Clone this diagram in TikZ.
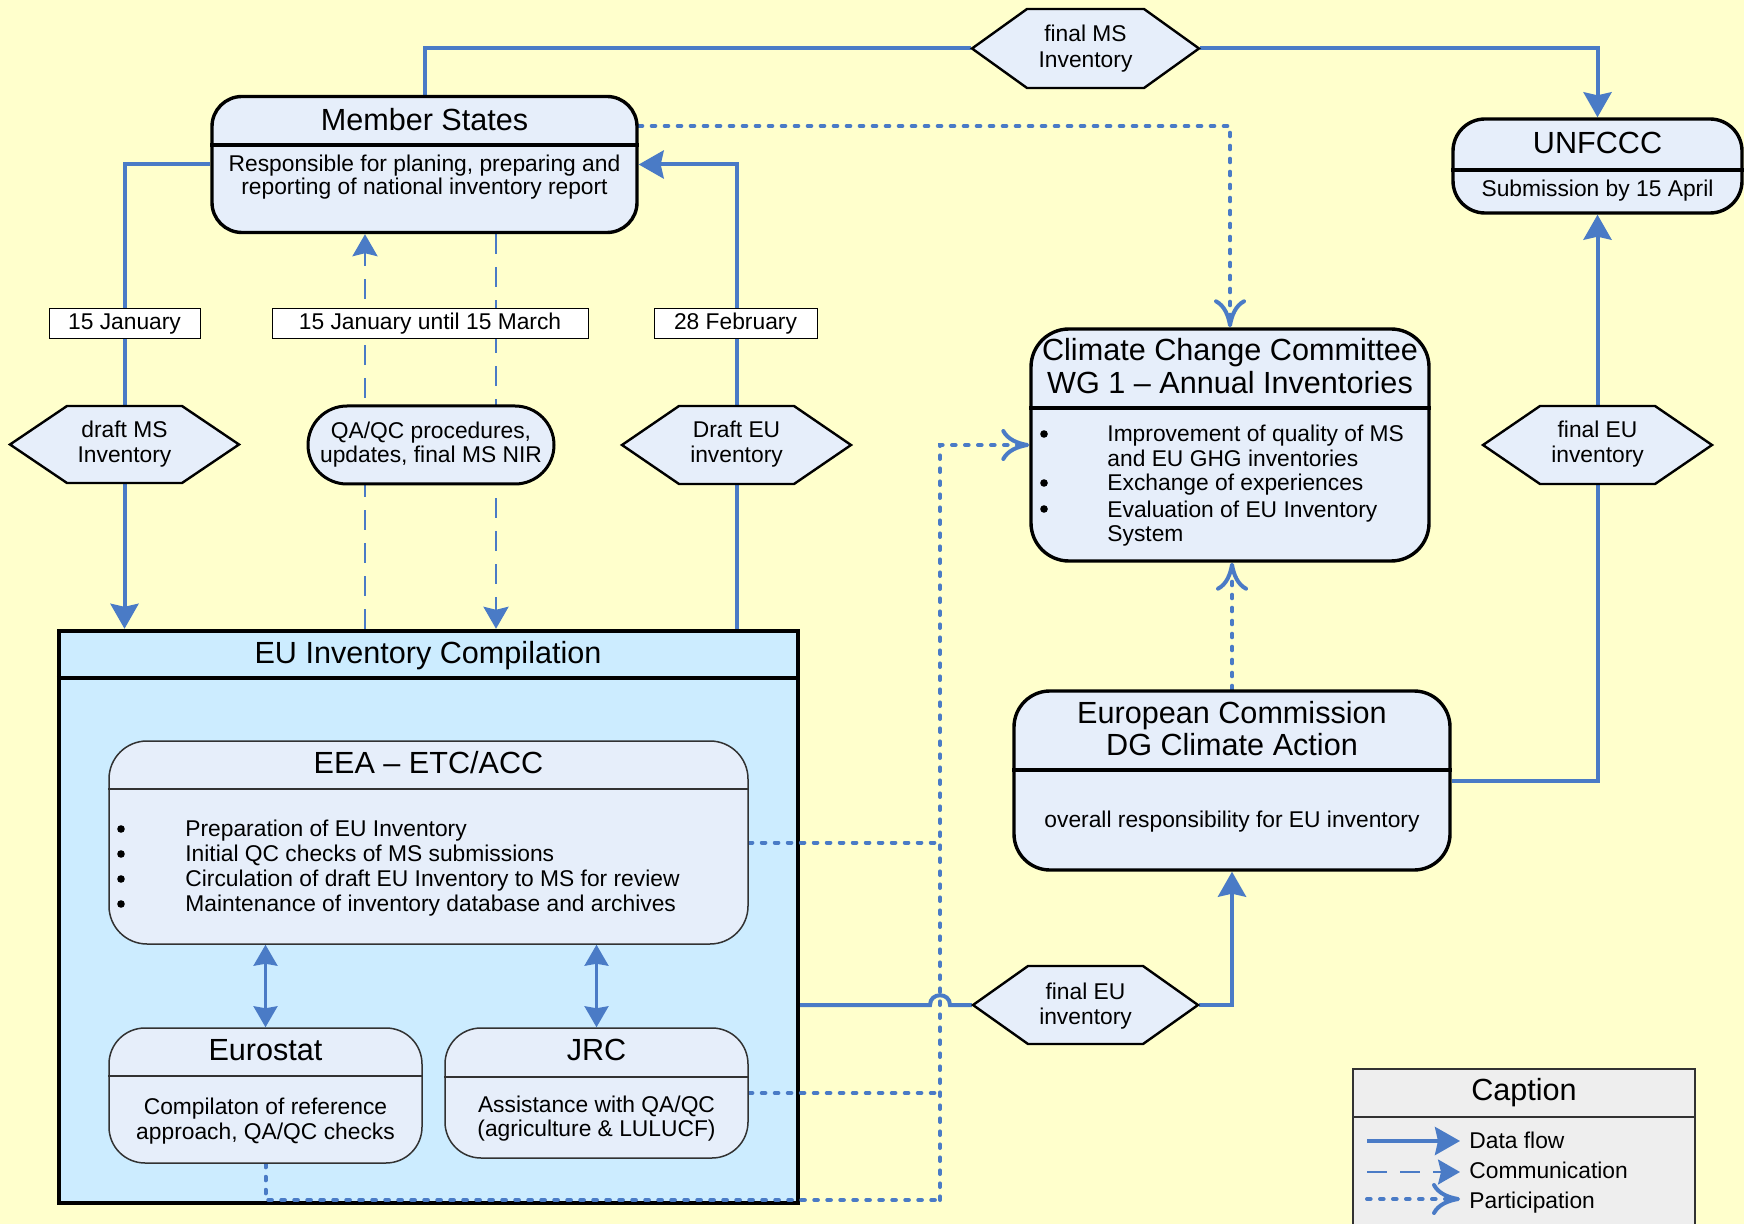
\documentclass[tikz,border=0pt]{standalone}
\usepackage{fontspec}
\setmainfont{Liberation Sans}
\usetikzlibrary{arrows.meta,calc}
\definecolor{bgy}{RGB}{255,255,204}
\definecolor{boxf}{RGB}{230,238,250}
\definecolor{euf}{RGB}{204,236,255}
\definecolor{flowc}{RGB}{74,123,198}
\definecolor{capf}{RGB}{238,238,238}
\definecolor{thinb}{RGB}{50,50,50}
\pgfdeclarelayer{bg}
\pgfdeclarelayer{edges}
\pgfsetlayers{bg,edges,main}
% #1 name, #2 x, #3 y, #4 half width, #5 cut, #6 half height (all px)
\newcommand\hexnode[6]{%
  \filldraw[hexline] (#2-#4,#3) -- (#2-#4+#5,#3-#6) -- (#2+#4-#5,#3-#6) -- (#2+#4,#3)
     -- (#2+#4-#5,#3+#6) -- (#2-#4+#5,#3+#6) -- cycle;
  \node[hexanchor, minimum width=#4pt, minimum height=#6pt] (#1) at (#2,#3) {};
}
\begin{document}
\begin{tikzpicture}[x=0.5pt,y=-0.5pt,
  bodyfont/.style={font=\fontsize{11.4}{13}\selectfont},
  titlefont/.style={font=\fontsize{15.3}{17}\selectfont},
  ttl/.style={titlefont, inner sep=0pt, anchor=base},
  bdy/.style={bodyfont, inner sep=0pt, anchor=base},
  bdyL/.style={bodyfont, inner sep=0pt, anchor=base west},
  bul/.style={circle, fill=black, inner sep=0pt, minimum size=3.8pt},
  rbox/.style={draw=black, line width=1.7pt, fill=boxf, inner sep=0pt},
  thinbox/.style={draw=thinb, line width=0.75pt, fill=boxf, inner sep=0pt},
  lbl/.style={draw=black, line width=0.5pt, fill=white, inner sep=0pt, bodyfont, text height=8.2pt, text depth=2.4pt},
  hexanchor/.style={inner sep=0pt, outer sep=0.6pt},
  hexline/.style={fill=boxf, draw=black, line width=1.2pt},
  flowline/.style={draw=flowc, line width=2pt},
  flowarr/.style={flowline, -{Stealth[length=12.5pt,width=14pt,inset=1.5pt]}},
  commarr/.style={draw=flowc, line width=1.3pt, dash pattern=on 10pt off 6.5pt, -{Stealth[length=11pt,width=12.5pt,inset=1.5pt]}},
  partline/.style={draw=flowc, line width=2pt, line cap=round, dash pattern=on 1.8pt off 4.7pt},
  partarr/.style={partline, -{Computer Modern Rightarrow[length=14pt,width=16pt]}},
  dblarr/.style={draw=flowc, line width=1.3pt, {Stealth[length=10.5pt,width=12pt,inset=1pt]}-{Stealth[length=10.5pt,width=12pt,inset=1pt]}},
  sepbold/.style={draw=black, line width=1.7pt},
  septhin/.style={draw=thinb, line width=0.75pt}
]
\useasboundingbox (0,0) rectangle (1744,1224);

\begin{pgfonlayer}{bg}
  \fill[bgy] (0,0) rectangle (1744,1224);
  \node[draw=black, line width=2.2pt, fill=euf, inner sep=0pt, minimum width=369.5pt, minimum height=286pt] (eu) at (428.5,917) {};
  \draw[draw=black, line width=2.2pt] (eu.west |- 0,678) -- (eu.east |- 0,678);
\end{pgfonlayer}

% ---------- coordinates for lanes
\coordinate (xD1) at (365,0);
\coordinate (xD2) at (496,0);
\coordinate (xPV) at (940,0);
\coordinate (yMSd) at (0,126);
\coordinate (yBot) at (0,1200);

% ---------- Member States
\node[rbox, rounded corners=15pt, minimum width=212.5pt, minimum height=68pt] (ms) at (424.5,164.5) {};
\draw[sepbold] (ms.west |- 0,145) -- (ms.east |- 0,145);
\node[ttl] (msT) at (424.5,131) {Member States};
\node[bdy] (msB1) at (424.5,172) {Responsible for planing, preparing and};
\node[bdy] (msB2) at (424.5,195) {reporting of national inventory report};

% ---------- UNFCCC
\node[rbox, rounded corners=16pt, minimum width=144.5pt, minimum height=47pt] (unf) at (1597.5,166) {};
\draw[sepbold] (unf.west |- 0,170) -- (unf.east |- 0,170);
\node[ttl] (unT) at (1597.5,154) {UNFCCC};
\node[bdy] (unB) at (1597.5,197) {Submission by 15 April};

% ---------- Climate Change Committee
\node[rbox, rounded corners=19pt, minimum width=199pt, minimum height=116pt] (ccc) at (1230,445) {};
\draw[sepbold] (ccc.west |- 0,408) -- (ccc.east |- 0,408);
\node[ttl] (cT1) at (1230,361) {Climate Change Committee};
\node[ttl] (cT2) at (1230,394) {WG 1 – Annual Inventories};
\node[bul] (cb1) at (1044,434) {};
\node[bul] (cb2) at (1044,483) {};
\node[bul] (cb3) at (1044,509) {};
\node[bdyL] (ct1) at (1107,442) {Improvement of quality of MS};
\node[bdyL] (ct2) at (1107,467) {and EU GHG inventories};
\node[bdyL] (ct3) at (1107,491) {Exchange of experiences};
\node[bdyL] (ct4) at (1107,517) {Evaluation of EU Inventory};
\node[bdyL] (ct5) at (1107,541) {System};

% ---------- European Commission
\node[rbox, rounded corners=18pt, minimum width=218pt, minimum height=89.5pt] (ec) at (1232,780.5) {};
\draw[sepbold] (ec.west |- 0,770) -- (ec.east |- 0,770);
\node[ttl] (eT1) at (1232,723) {European Commission};
\node[ttl] (eT2) at (1232,755) {DG Climate Action};
\node[bdy] (eB) at (1232,827) {overall responsibility for EU inventory};

% ---------- EU Inventory Compilation contents
\node[ttl] (euT) at (428,663) {EU Inventory Compilation};

\node[thinbox, rounded corners=19pt, minimum width=319.5pt, minimum height=101.5pt] (eea) at (428.5,842.5) {};
\draw[septhin] (eea.west |- 0,789) -- (eea.east |- 0,789);
\node[ttl] (eeaT) at (428.5,773) {EEA – ETC/ACC};
\node[bul] (eb1) at (121,829) {};
\node[bul] (eb2) at (121,854) {};
\node[bul] (eb3) at (121,879) {};
\node[bul] (eb4) at (121,904) {};
\node[bdyL] (et1) at (185,836) {Preparation of EU Inventory};
\node[bdyL] (et2) at (185,861) {Initial QC checks of MS submissions};
\node[bdyL] (et3) at (185,886) {Circulation of draft EU Inventory to MS for review};
\node[bdyL] (et4) at (185,911) {Maintenance of inventory database and archives};

\node[thinbox, rounded corners=18pt, minimum width=156.5pt, minimum height=67.5pt] (euro) at (265.5,1095.5) {};
\draw[septhin] (euro.west |- 0,1076) -- (euro.east |- 0,1076);
\node[ttl] (euroT) at (265.5,1060) {Eurostat};
\node[bdy] (euroB1) at (265.5,1114) {Compilaton of reference};
\node[bdy] (euroB2) at (265.5,1139) {approach, QA/QC checks};

\node[thinbox, rounded corners=18pt, minimum width=151.5pt, minimum height=65pt] (jrc) at (596.5,1093) {};
\draw[septhin] (jrc.west |- 0,1077) -- (jrc.east |- 0,1077);
\node[ttl] (jrcT) at (596.5,1060) {JRC};
\node[bdy] (jrcB1) at (596.5,1112) {Assistance with QA/QC};
\node[bdy] (jrcB2) at (596.5,1136) {(agriculture \& LULUCF)};

% ---------- date labels
\node[lbl, minimum width=75.5pt, minimum height=15pt] (l1) at (124.5,324) {15 January};
\node[lbl, minimum width=158pt, minimum height=15pt] (l2) at (430,324) {15 January until 15 March};
\node[lbl, minimum width=81.5pt, minimum height=15pt] (l3) at (735.5,324) {28 February};

% ---------- QA/QC
\node[draw=black, line width=1.5pt, fill=boxf, rounded corners=19.5pt, inner sep=0pt, minimum width=123pt, minimum height=39pt] (qa) at (431,445) {};
\node[bdy] (qaT1) at (431,439) {QA/QC procedures,};
\node[bdy] (qaT2) at (431,463) {updates, final MS NIR};

% ---------- hexagons
\hexnode{fms}{1085.5}{48.5}{113.5}{55}{39.5}
\node[bdy] (fmsT1) at (1085.5,42) {final MS};
\node[bdy] (fmsT2) at (1085.5,68) {Inventory};
\hexnode{dms}{124.5}{444.5}{114.5}{57}{38.5}
\node[bdy] (dmsT1) at (124.5,438) {draft MS};
\node[bdy] (dmsT2) at (124.5,463) {Inventory};
\hexnode{deu}{736.5}{445}{114.5}{57}{39}
\node[bdy] (deuT1) at (736.5,438) {Draft EU};
\node[bdy] (deuT2) at (736.5,463) {inventory};
\hexnode{feu}{1085.5}{1005}{112.5}{55}{39}
\node[bdy] (feuT1) at (1085.5,999) {final EU};
\node[bdy] (feuT2) at (1085.5,1024) {inventory};
\hexnode{feeu}{1597.5}{445}{114.5}{57}{39}
\node[bdy] (feeuT1) at (1597.5,438) {final EU};
\node[bdy] (feeuT2) at (1597.5,463) {inventory};

% ---------- Caption
\node[draw=thinb, line width=0.8pt, fill=capf, inner sep=0pt, minimum width=171pt, minimum height=85.5pt] (cap) at (1524,1154.5) {};
\draw[draw=thinb, line width=1pt] (cap.west |- 0,1117) -- (cap.east |- 0,1117);
\node[ttl] (capT) at (1524,1100) {Caption};
\coordinate (lg1a) at (1367,1141); \coordinate (lg1b) at (1460,1141);
\coordinate (lg2a) at (1367,1172); \coordinate (lg2b) at (1460,1172);
\coordinate (lg3a) at (1367,1199); \coordinate (lg3b) at (1460,1199);
\node[bdyL] (lgT1) at (1469,1148) {Data flow};
\node[bdyL] (lgT2) at (1469,1178) {Communication};
\node[bdyL] (lgT3) at (1469,1208) {Participation};
\draw[flowarr] (lg1a) -- (lg1b);
\draw[commarr] (lg2a) -- (lg2b);
\draw[partarr] (lg3a) -- (lg3b);

% ---------- connectors
\begin{pgfonlayer}{edges}
  % data flow
  \draw[flowline] (ms.north) |- (fms.west);
  \draw[flowarr] (fms.east) -| (unf.north);
  \draw[flowline] (ms.west) -| (dms.north);
  \draw[flowarr] (dms.south) -- (dms.south |- eu.north);
  \draw[flowarr] (deu.north) |- (ms.east);
  \draw[flowline] (eu.north -| deu.south) -- (deu.south);
  \coordinate (hopL) at ($(xPV |- feu.west)+(-10,0)$);
  \coordinate (hopR) at ($(xPV |- feu.west)+(10,0)$);
  \draw[flowline] (eu.east |- feu.west) -- (hopL)
      .. controls ($(hopL)+(0,-13)$) and ($(hopR)+(0,-13)$) .. (hopR) -- (feu.west);
  \draw[flowarr] (feu.east) -| (ec.south);
  \draw[flowline] (ec.east) -| (feeu.south);
  \draw[flowarr] (feeu.north) -- (unf.south);
  \draw[dblarr] (euro.north |- eea.south) -- (euro.north);
  \draw[dblarr] (jrc.north |- eea.south) -- (jrc.north);
  % communication
  \draw[commarr] (eu.north -| xD1) -- (ms.south -| xD1);
  \draw[commarr] (ms.south -| xD2) -- (eu.north -| xD2);
  % participation
  \draw[partarr] (ms.east |- yMSd) -| (ccc.north);
  \draw[partline] (eea.east) -- (xPV |- eea.east);
  \draw[partline] (jrc.east) -- (xPV |- jrc.east);
  \draw[partline] (euro.south) |- (xPV |- yBot);
  \draw[partarr] (xPV |- yBot) |- (ccc.west);
  \draw[partarr] (ec.north) -- (ec.north |- ccc.south);
\end{pgfonlayer}
\end{tikzpicture}
\end{document}
